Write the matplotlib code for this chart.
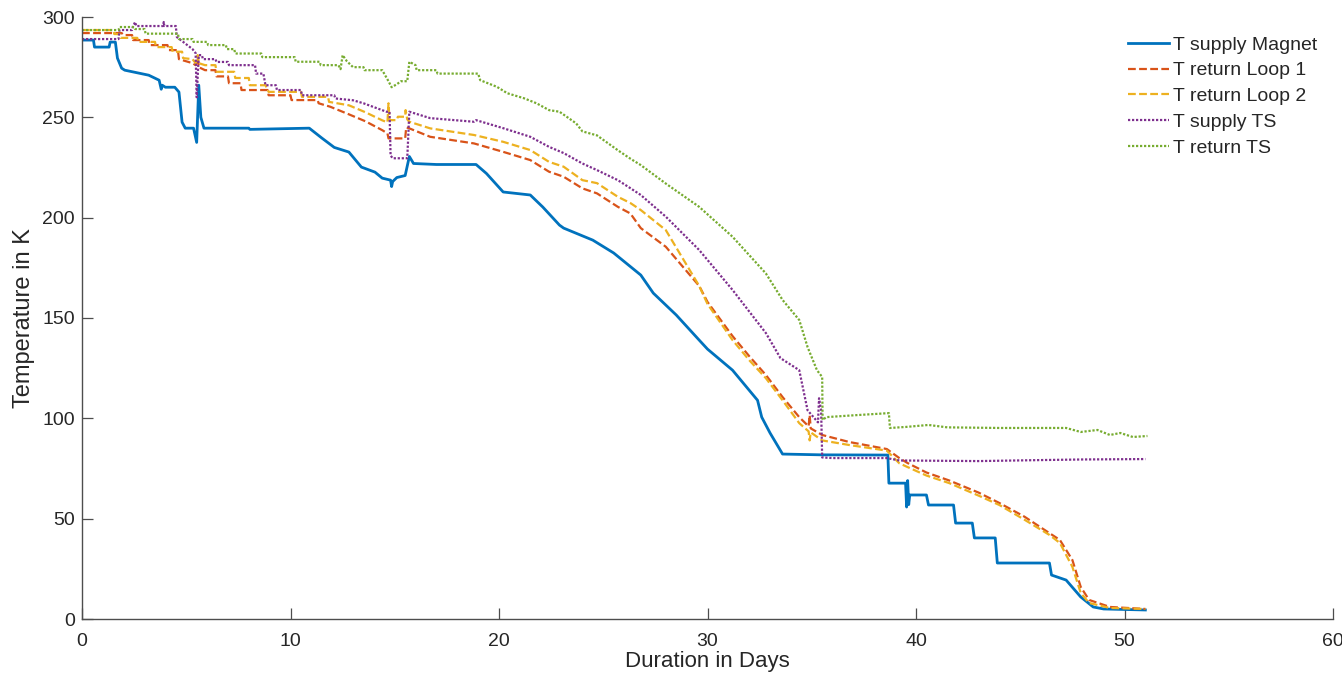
import matplotlib
matplotlib.use("Agg")
import matplotlib.pyplot as plt

# ---- data: (day, temperature K) breakpoints ----
t_supply_magnet = [
    (0, 288.5), (0.55, 288.5), (0.6, 285), (1.3, 285), (1.35, 287.5), (1.6, 287.5),
    (1.7, 279.5), (1.9, 274.5), (2.05, 273.5), (3.2, 271), (3.7, 268.5), (3.8, 264),
    (3.85, 266), (4.0, 265), (4.45, 265), (4.65, 262.6), (4.8, 247.6), (4.95, 244.6),
    (5.35, 244.6), (5.5, 237.5), (5.6, 266), (5.7, 250), (5.85, 244.6), (8.0, 244.6),
    (8.05, 244), (10.9, 244.6), (11.5, 239.7), (12.1, 235), (12.8, 232.7), (13.4, 225.2),
    (14.05, 222.7), (14.4, 219.7), (14.8, 218.7), (14.85, 215.5), (14.9, 218), (15.1, 220),
    (15.5, 221), (15.7, 230.5), (15.9, 227), (17.0, 226.5), (18.9, 226.5), (19.4, 222),
    (20.2, 212.8), (21.5, 211.3), (22.1, 205.3), (22.9, 196.3), (23.1, 194.8), (24.5, 188.8),
    (25.5, 182.4), (26.8, 171.4), (27.4, 162.4), (28.5, 151.5), (29.6, 139), (30.0, 134.5),
    (31.2, 124), (32.4, 109), (32.6, 100.6), (33.0, 92.7), (33.6, 82.2), (35.5, 81.8),
    (38.65, 81.7), (38.7, 67.7), (39.5, 67.7), (39.55, 55.8), (39.6, 69), (39.65, 57),
    (39.7, 61.8), (40.5, 61.8), (40.6, 56.8), (41.8, 56.8), (41.9, 47.8), (42.7, 47.8),
    (42.8, 40.4), (43.8, 40.4), (43.9, 27.9), (46.4, 27.9), (46.5, 21.9), (47.2, 19.4),
    (47.9, 11), (48.5, 6), (49.0, 5), (51.0, 4.5),
]

t_return_loop1 = [
    (0, 292), (1.9, 292), (2.0, 291), (2.4, 291), (2.45, 288.5), (3.2, 288.5), (3.25, 286),
    (4.1, 286), (4.15, 283.5), (4.6, 283.5), (4.65, 279), (5.3, 277), (5.45, 276), (5.55, 280),
    (5.6, 275), (5.9, 273.5), (6.4, 273.5), (6.45, 270.4), (7.0, 270.4), (7.05, 267),
    (7.6, 267), (7.65, 263.6), (8.9, 263.6), (8.95, 261), (10.0, 261), (10.05, 258.6),
    (11.3, 258.6), (11.35, 257), (11.9, 255.3), (12.8, 251.5), (13.6, 248), (14.4, 243.6),
    (14.65, 242), (14.7, 239.5), (15.5, 239.5), (15.55, 245), (15.7, 244.5), (16.7, 240.3),
    (18.8, 237), (20.2, 232.8), (21.5, 228.7), (22.4, 222.9), (23.1, 220.4), (24.0, 214.6),
    (24.7, 212.1), (25.7, 205.4), (26.3, 202.1), (26.8, 194.8), (28.0, 185.5), (29.6, 166),
    (30.0, 158), (31.2, 141), (32.0, 131), (32.8, 121.6), (33.6, 110.6), (34.4, 100.6),
    (34.85, 96), (34.9, 101.6), (34.95, 95), (35.5, 91.7), (36.8, 88.2), (38.6, 84.7),
    (39.2, 80.2), (39.6, 77.7), (40.5, 73), (41.6, 69), (43.0, 63), (44.0, 57.8),
    (45.2, 51), (46.4, 42.8), (46.9, 39.4), (47.5, 29.4), (47.9, 16), (48.3, 9.5),
    (49.3, 6), (51.0, 5),
]

t_return_loop2 = [
    (0, 293.5), (1.5, 293.5), (1.55, 291.5), (1.8, 291.5), (1.85, 289.6), (2.65, 289.6),
    (2.7, 287.6), (3.5, 287.6), (3.55, 285), (4.3, 285), (4.35, 282.7), (4.8, 282.7),
    (4.85, 279.5), (5.3, 279), (5.45, 277), (5.55, 281), (5.6, 277), (5.9, 276), (6.4, 276),
    (6.45, 272.7), (7.3, 272.7), (7.35, 269.6), (8.0, 269.6), (8.05, 266), (8.8, 266),
    (8.95, 262.7), (10.5, 262.7), (10.55, 260.2), (11.8, 260.2), (11.85, 257.7), (12.8, 256),
    (13.6, 252.5), (14.4, 248.5), (14.65, 247.5), (14.7, 257), (14.75, 248.6), (15.1, 248.6),
    (15.15, 250.3), (15.5, 250.3), (15.52, 253.6), (15.6, 249), (15.7, 247.8), (16.7, 244.5),
    (18.8, 241.2), (20.2, 237.8), (21.5, 233.7), (22.4, 227.8), (23.1, 225.4), (24.0, 218.7),
    (24.7, 217.2), (25.7, 210.4), (26.3, 207.3), (26.8, 203.8), (28.0, 193.8), (29.6, 166),
    (30.0, 157), (31.2, 139), (32.0, 129), (32.8, 120), (33.6, 109), (34.4, 97.6),
    (34.85, 93.5), (34.9, 89), (34.95, 93), (35.5, 89), (36.8, 86.7), (38.6, 83.9),
    (39.2, 77.6), (39.6, 75.7), (40.5, 71.5), (41.6, 67.7), (43.0, 61.5), (44.0, 56.8),
    (45.2, 49.5), (46.4, 41.9), (46.9, 37.9), (47.5, 26), (47.9, 13), (48.3, 8),
    (49.3, 5.5), (51.0, 5),
]

t_supply_ts = [
    (0, 289), (1.75, 289), (1.8, 293.5), (2.4, 293.5), (2.45, 295.5), (2.55, 297.5),
    (2.6, 295.5), (3.9, 295.5), (3.92, 297.5), (3.95, 295.5), (4.5, 295.5), (4.55, 290),
    (5.3, 284), (5.45, 282), (5.5, 260), (5.6, 281), (5.75, 281), (5.8, 279), (6.4, 279),
    (6.45, 277.6), (7.0, 277.6), (7.05, 276), (8.3, 276), (8.35, 271.8), (8.7, 271.8),
    (8.8, 266), (9.3, 266), (9.35, 263.6), (10.5, 263.6), (10.55, 261), (12.1, 261),
    (12.15, 259.4), (13.0, 258.5), (13.5, 257), (14.6, 252.8), (14.75, 252.8), (14.8, 231),
    (14.9, 229.6), (15.6, 229.6), (15.7, 252.8), (16.7, 249.6), (18.8, 247.8), (18.9, 248.6),
    (20.2, 244.6), (21.5, 240.3), (22.4, 235.3), (23.1, 232.2), (24.0, 227), (24.7, 223.7),
    (25.7, 218.7), (26.3, 214.7), (26.8, 211.3), (28.0, 200.5), (29.6, 183.9), (31.2, 164),
    (32.8, 142.5), (33.5, 130), (34.4, 124), (34.8, 104), (35.3, 98), (35.35, 110),
    (35.45, 104), (35.5, 80.5), (36.0, 80.2), (38.6, 80.2), (39.2, 79), (43.0, 78.7),
    (46.0, 79.2), (48.0, 79.5), (51.0, 79.7),
]

t_return_ts = [
    (0, 293.5), (1.75, 293.5), (1.8, 295), (2.5, 295), (2.55, 294), (3.0, 294),
    (3.05, 291.7), (4.6, 291.7), (4.65, 289), (5.3, 289), (5.35, 287.6), (6.0, 287.6),
    (6.05, 286), (6.9, 286), (6.95, 284), (7.3, 284), (7.35, 281.8), (8.6, 281.8),
    (8.65, 280), (10.2, 280), (10.25, 277.7), (11.4, 277.7), (11.45, 276), (12.3, 276),
    (12.4, 274), (12.5, 281), (12.7, 278), (13.0, 275), (13.5, 275), (13.55, 273.5),
    (14.4, 273.5), (14.7, 268), (14.85, 265), (15.1, 266.5), (15.3, 268), (15.6, 268),
    (15.7, 277.7), (16.0, 276), (16.05, 273.5), (17.0, 273.5), (17.05, 271.8), (19.0, 271.8),
    (19.1, 268.5), (19.9, 265.2), (20.4, 262), (21.2, 259.5), (21.8, 257), (22.4, 253.6),
    (22.9, 252.8), (23.7, 247), (24.0, 243), (24.7, 241), (25.7, 233.6), (26.3, 229.4),
    (26.8, 226.2), (28.0, 217), (29.6, 205.4), (31.2, 190.5), (32.8, 172.2), (33.6, 159),
    (34.4, 149), (34.8, 135.5), (35.25, 124), (35.5, 120.6), (35.52, 99.2), (35.7, 100.6),
    (37.0, 101.5), (38.7, 102.6), (38.75, 95.2), (39.5, 95.7), (40.6, 96.7), (41.5, 95.5),
    (44.0, 95.2), (46.4, 95.2), (47.2, 95.2), (47.9, 93.2), (48.7, 94.2), (49.3, 91.7),
    (49.8, 92.7), (50.4, 90.7), (51.1, 91.2),
]

series_labels = ["T supply Magnet", "T return Loop 1", "T return Loop 2",
                 "T supply TS", "T return TS"]
x_ticks = [0, 10, 20, 30, 40, 50, 60]
y_ticks = [0, 50, 100, 150, 200, 250, 300]

# ---- plotting ----
plt.rcParams['font.family'] = ['Liberation Sans', 'DejaVu Sans']
fig = plt.figure(figsize=(13.42, 6.79), dpi=100)
ax = fig.add_axes([82 / 1342, 60 / 679, (1333 - 82) / 1342, (619 - 17) / 679])

all_series = [t_supply_magnet, t_return_loop1, t_return_loop2, t_supply_ts, t_return_ts]
colors = ["#0072BD", "#D95319", "#EDB120", "#7E2F8E", "#77AC30"]
styles = ["-", (0, (3.5, 1.5)), (0, (3.5, 1.5)), (0, (1, 0.8)), (0, (1, 0.8))]
widths = [2.0, 1.6, 1.6, 1.6, 1.6]

for data, lab, c, ls, lw in zip(all_series, series_labels, colors, styles, widths):
    xs = [p[0] for p in data]
    ys = [p[1] for p in data]
    ax.plot(xs, ys, color=c, linestyle=ls, linewidth=lw, label=lab)

ax.set_xlim(0, 60)
ax.set_ylim(0, 300)
ax.set_xticks(x_ticks)
ax.set_yticks(y_ticks)
for s in ["top", "right"]:
    ax.spines[s].set_visible(False)
for s in ["left", "bottom"]:
    ax.spines[s].set_color("#4d4d4d")
    ax.spines[s].set_linewidth(1.0)
ax.tick_params(direction="in", length=8, width=0.9, color="#4d4d4d",
               labelsize=14, labelcolor="#262626")
ax.tick_params(axis="x", pad=10)
ax.tick_params(axis="y", pad=5)
ax.set_xlabel("Duration in Days", fontsize=16, color="#262626", labelpad=1)
ax.set_ylabel("Temperature in K", fontsize=17, color="#262626", labelpad=5)

leg = ax.legend(loc="upper left", bbox_to_anchor=(1128 / 1342, 1 - 36 / 679),
                bbox_transform=fig.transFigure, frameon=False, fontsize=14,
                handlelength=2.1, handletextpad=0.2, labelspacing=0.42,
                borderpad=0, borderaxespad=0)
for t in leg.get_texts():
    t.set_color("#262626")

fig.savefig("out.png", dpi=100)
